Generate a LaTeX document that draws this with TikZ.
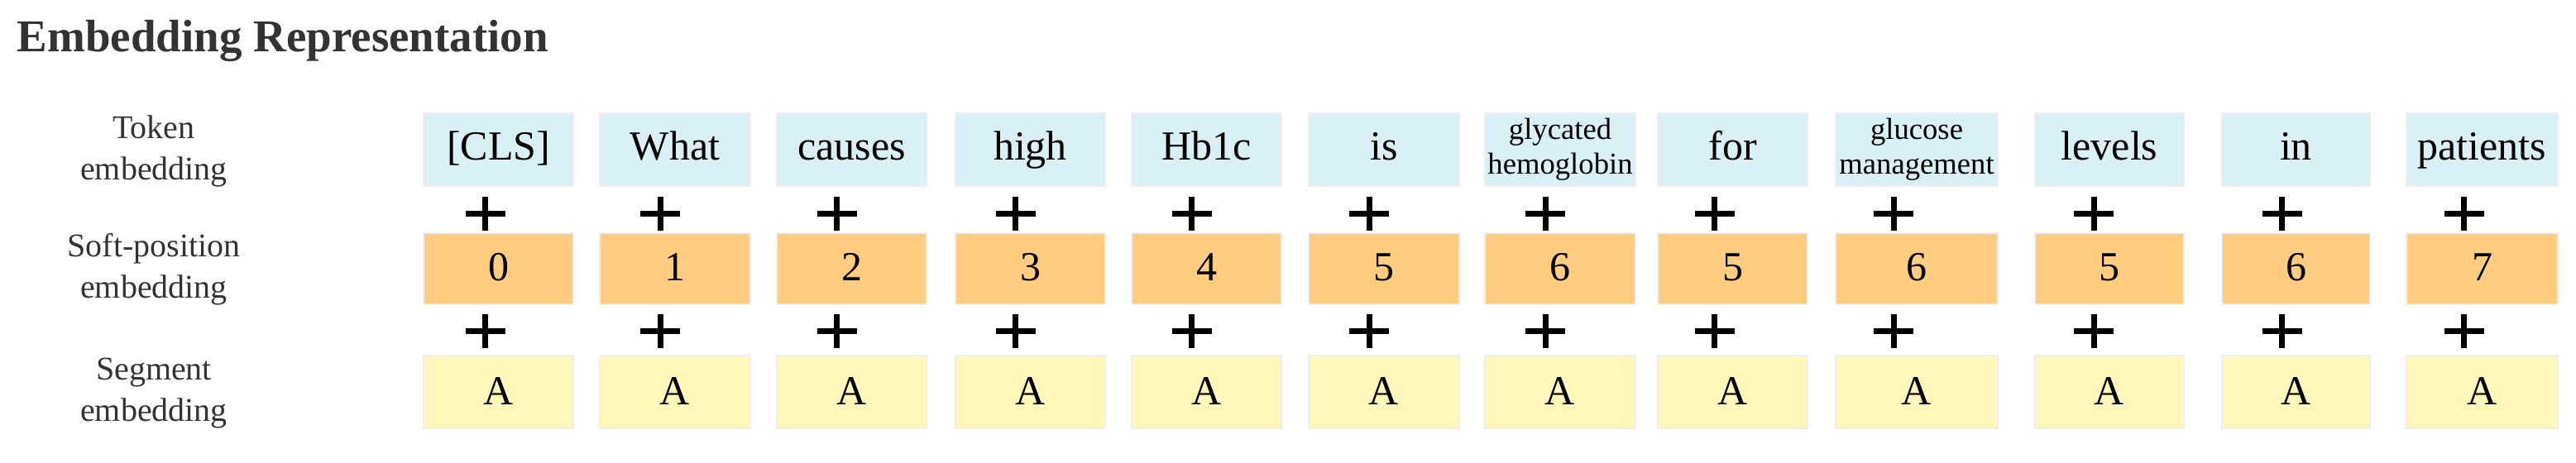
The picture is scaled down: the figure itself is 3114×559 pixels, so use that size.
\documentclass[tikz,border=0pt]{standalone}
\usepackage{fontspec}
\setmainfont{Liberation Serif}
\definecolor{tokfill}{RGB}{218,240,247}
\definecolor{posfill}{RGB}{255,204,128}
\definecolor{segfill}{RGB}{255,248,186}
\definecolor{edgecol}{RGB}{242,236,236}
\definecolor{labgray}{RGB}{51,51,51}
\begin{document}
\begin{tikzpicture}[x=0.3pt,y=-0.3pt,
  cell/.style={draw=edgecol, line width=0.8pt, inner sep=0pt, outer sep=0pt, align=center, text=black},
  tokbox/.style={cell, fill=tokfill, minimum height=26.4pt},
  posbox/.style={cell, fill=posfill, minimum height=25.8pt, font=\fontsize{15}{18}\selectfont, text height=0.85em, text depth=0pt},
  segbox/.style={cell, fill=segfill, minimum height=26.4pt, font=\fontsize{15}{18}\selectfont, text height=0.9em, text depth=0pt},
  tokbig/.style={font=\fontsize{15}{18}\selectfont, text height=0.76em, text depth=0pt},
  toksmall/.style={font=\fontsize{11}{12.6}\selectfont},
  rowlabel/.style={align=center, text=labgray, font=\fontsize{12}{15}\selectfont, inner sep=0pt},
  titlestyle/.style={text=labgray, font=\fontsize{16.5}{20}\selectfont\bfseries, inner sep=0pt},
  plusmark/.style={draw=black, line width=2.1pt}
]
\useasboundingbox (0,0) rectangle (3114,559);
\node[titlestyle, anchor=base west] (title) at (20,62) {Embedding Representation};
\node[rowlabel] (ltok) at (186,183) {Token\\embedding};
\node[rowlabel] (lpos) at (186,326) {Soft-position\\embedding};
\node[rowlabel] (lseg) at (186,476) {Segment\\embedding};
\foreach \i/\cx/\w/\tok/\sty/\pos/\dx in {
 1/602.5/181/{[CLS]}/tokbig/0/16,
 2/816/182/What/tokbig/1/18,
 3/1029.5/181/causes/tokbig/2/18,
 4/1245.5/181/high/tokbig/3/18,
 5/1458.5/181/Hb1c/tokbig/4/18,
 6/1673/182/is/tokbig/5/18,
 7/1886/182/{glycated\\hemoglobin}/toksmall/6/18,
 8/2094.5/181/for/tokbig/5/22,
 9/2317/196/{glucose\\management}/toksmall/6/28,
 10/2550/180/levels/tokbig/5/19,
 11/2775.5/179/in/tokbig/6/17,
 12/3000.5/183/patients/tokbig/7/22}{
  \node[tokbox, \sty, minimum width={\w*0.3pt}] (t\i) at (\cx,181) {\tok};
  \node[posbox, minimum width={\w*0.3pt}] (p\i) at (\cx,325) {\pos};
  \node[segbox, minimum width={\w*0.3pt}] (s\i) at (\cx,474) {A};
  \draw[plusmark] (t\i.south) ++(-\dx-24,33) -- ++(48,0);
  \draw[plusmark] (t\i.south) ++(-\dx,12.5) -- ++(0,41);
  \draw[plusmark] (p\i.south) ++(-\dx-24,32) -- ++(48,0);
  \draw[plusmark] (p\i.south) ++(-\dx,11.5) -- ++(0,41);
}
\end{tikzpicture}
\end{document}
